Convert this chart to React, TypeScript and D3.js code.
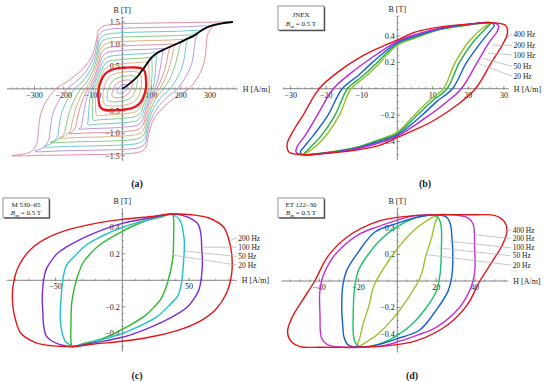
import * as React from 'react';
import * as d3 from 'd3';

type Pt = [number, number];

// ---------- (a) loops for Bm = 1.5 ... 0.1 T, descending branch from +tip to -tip [H A/m, B T]
const loopsA: Pt[][] = [
  [[378,1.5],[250,1.49],[100,1.475],[0,1.46],[-50,1.43],[-70,1.39],[-82,1.3],[-88,1.1],[-95,0.9],[-108,0.68],[-135,0.45],[-180,0.2],[-227,0],[-262,-0.3],[-280,-0.6],[-287,-0.95],[-292,-1.22],[-310,-1.4],[-345,-1.47],[-378,-1.5]],
  [[298,1.4],[200,1.39],[80,1.375],[0,1.36],[-50,1.33],[-68,1.29],[-80,1.2],[-86,1.0],[-93,0.8],[-105,0.6],[-125,0.38],[-155,0.18],[-188,0],[-218,-0.28],[-238,-0.58],[-246,-0.9],[-252,-1.15],[-268,-1.31],[-298,-1.4]],
  [[268,1.3],[180,1.29],[70,1.275],[0,1.26],[-48,1.23],[-66,1.19],[-78,1.1],[-84,0.92],[-91,0.72],[-101,0.52],[-118,0.32],[-138,0.15],[-163,0],[-190,-0.27],[-208,-0.56],[-216,-0.86],[-222,-1.08],[-240,-1.22],[-268,-1.3]],
  [[247,1.2],[160,1.19],[60,1.175],[0,1.16],[-47,1.13],[-64,1.09],[-76,1.0],[-82,0.84],[-89,0.64],[-98,0.45],[-111,0.27],[-125,0.12],[-142,0],[-165,-0.26],[-182,-0.55],[-192,-0.83],[-200,-1.02],[-220,-1.14],[-247,-1.2]],
  [[215,1.1],[140,1.09],[50,1.075],[0,1.06],[-46,1.03],[-62,0.99],[-74,0.9],[-80,0.75],[-87,0.56],[-96,0.38],[-106,0.22],[-117,0.09],[-128,0],[-148,-0.25],[-163,-0.53],[-172,-0.78],[-178,-0.94],[-195,-1.05],[-215,-1.1]],
  [[183,1.0],[120,0.99],[40,0.975],[0,0.96],[-45,0.93],[-60,0.89],[-72,0.8],[-78,0.66],[-85,0.48],[-93,0.31],[-102,0.17],[-110,0.07],[-118,0],[-135,-0.24],[-148,-0.5],[-155,-0.72],[-160,-0.87],[-170,-0.96],[-183,-1.0]],
  [[148,0.9],[100,0.89],[30,0.875],[0,0.86],[-44,0.83],[-58,0.79],[-70,0.7],[-76,0.57],[-83,0.41],[-91,0.26],[-99,0.13],[-106,0.05],[-111,0],[-122,-0.22],[-130,-0.47],[-135,-0.67],[-138,-0.8],[-142,-0.87],[-148,-0.9]],
  [[118,0.8],[80,0.79],[30,0.775],[0,0.76],[-42,0.73],[-56,0.69],[-67,0.6],[-74,0.48],[-81,0.34],[-89,0.2],[-97,0.08],[-104,0],[-110,-0.2],[-114,-0.45],[-116,-0.63],[-117,-0.73],[-118,-0.8]],
  [[100,0.7],[70,0.69],[25,0.675],[0,0.66],[-40,0.63],[-54,0.59],[-64,0.51],[-72,0.39],[-80,0.25],[-88,0.12],[-93,0.05],[-97,0],[-100,-0.15],[-102,-0.35],[-102,-0.55],[-101,-0.65],[-100,-0.7]],
  [[88,0.6],[60,0.59],[20,0.575],[0,0.56],[-38,0.53],[-52,0.49],[-62,0.41],[-71,0.29],[-80,0.15],[-86,0.06],[-90,0],[-92,-0.12],[-92,-0.3],[-91,-0.47],[-89,-0.56],[-88,-0.6]],
  [[66,0.24],[63,0.32],[55,0.37],[32,0.39],[0,0.37],[-24,0.34],[-40,0.29],[-52,0.2],[-60,0.09],[-64,0],[-66,-0.1],[-66,-0.18],[-66,-0.24]],
  [[52,0.18],[50,0.24],[43,0.28],[25,0.295],[0,0.27],[-18,0.24],[-30,0.19],[-39,0.12],[-44,0.05],[-47,0],[-50,-0.08],[-51,-0.14],[-52,-0.18]],
  [[36,0.12],[34,0.16],[28,0.19],[15,0.2],[0,0.18],[-12,0.15],[-20,0.11],[-26,0.06],[-30,0],[-33,-0.06],[-35,-0.1],[-36,-0.12]],
  [[20,0.07],[14,0.095],[5,0.095],[-4,0.07],[-10,0.04],[-14,0],[-17,-0.035],[-19,-0.055],[-20,-0.07]],
];
const loopColorsA = ['#d9697f', '#a274d6', '#3fb5c0', '#5fb95f', '#c99a5e', '#d9697f', '#a274d6', '#3fb5c0', '#5fb95f', '#c99a5e', '#c99a5e', '#5fb95f', '#d9697f', '#7b7be0'];

// Bm = 0.5 T loop (highlighted)
const redLoopA: Pt[] = [[80,0.3],[76,0.4],[66,0.46],[40,0.48],[0,0.47],[-30,0.44],[-50,0.38],[-65,0.28],[-75,0.14],[-80,0.02],[-82,-0.1],[-81,-0.22],[-80,-0.3]];

// initial magnetization curve
const virginH = [0, 22, 40, 55, 66, 78, 88, 100, 118, 148, 183, 215, 247, 268, 298, 378];
const virginB = [0, 0.1, 0.2, 0.3, 0.4, 0.5, 0.6, 0.7, 0.8, 0.9, 1.0, 1.1, 1.2, 1.3, 1.4, 1.5];

// ---------- (b) JNEX, Bm = 0.5 T
const freqB = ['20 Hz', '50 Hz', '100 Hz', '200 Hz', '400 Hz'];
const loopsB: Pt[][] = [
  [[26.5,0.5],[20,0.484],[12,0.448],[5,0.385],[0,0.33],[-5.5,0.18],[-9,0.09],[-13,0],[-16.3,-0.2],[-20.5,-0.37],[-24.5,-0.47],[-26.5,-0.5]],
  [[26.3,0.5],[20,0.485],[12,0.45],[5,0.39],[0,0.34],[-6,0.19],[-10,0.09],[-14,0],[-17.5,-0.2],[-21.5,-0.36],[-25,-0.46],[-26.3,-0.5]],
  [[26.6,0.5],[20,0.487],[12,0.455],[5,0.4],[0,0.35],[-7,0.2],[-11,0.1],[-15.5,0],[-19.5,-0.2],[-23.5,-0.35],[-26.5,-0.45],[-27.3,-0.48],[-26.6,-0.5]],
  [[27,0.5],[20,0.49],[12,0.46],[5,0.41],[0,0.36],[-8,0.22],[-13,0.12],[-18,0],[-22.5,-0.2],[-25.8,-0.35],[-28.2,-0.44],[-28.5,-0.48],[-27,-0.5]],
  [[27,0.5],[20,0.49],[12.6,0.47],[5,0.43],[0,0.37],[-6,0.3],[-11,0.23],[-17,0.12],[-22,0],[-26.5,-0.2],[-29.5,-0.33],[-31,-0.42],[-30.5,-0.48],[-27,-0.5]],
];
const colorsB = ['#93c21f', '#22b04a', '#1a5fd6', '#c125d9', '#e3151b'];

// ---------- (c) M 530-65, Bm = 0.5 T
const freqC = ['20 Hz', '50 Hz', '100 Hz', '200 Hz'];
const loopsC: Pt[][] = [
  [[38.5,0.36],[38.5,0.45],[37.5,0.5],[30,0.48],[15,0.44],[0,0.37],[-16.6,0.27],[-24,0.2],[-29,0.14],[-34,0.015],[-37.8,-0.16],[-38.5,-0.36]],
  [[46.5,0.29],[45,0.4],[42.8,0.46],[39,0.49],[37,0.5],[20,0.46],[0,0.4],[-14,0.34],[-26.6,0.27],[-36,0.18],[-41.5,0.12],[-44,0.04],[-45,-0.03],[-46,-0.15],[-46.5,-0.29]],
  [[59,0.34],[57,0.42],[52.5,0.46],[45,0.49],[37,0.5],[20,0.47],[0,0.43],[-15,0.38],[-29,0.32],[-42,0.25],[-49,0.2],[-55,0.12],[-57.5,0.07],[-60,-0.11],[-59.5,-0.25],[-59,-0.34]],
  [[76,0.4],[65,0.47],[52,0.495],[37,0.5],[20,0.48],[0,0.46],[-20,0.43],[-41,0.38],[-58,0.31],[-70,0.22],[-78,0.1],[-82,-0.05],[-82,-0.2],[-80,-0.3],[-76,-0.4]],
];
const colorsC = ['#2eb82e', '#1ec2c6', '#7d2ad8', '#e3151b'];

// ---------- (d) ET 122-30, Bm = 0.5 T
const freqD = ['20 Hz', '50 Hz', '100 Hz', '200 Hz', '400 Hz'];
const loopsD: Pt[][] = [
  [[21,0.5],[17,0.47],[10,0.4],[2,0.28],[-6,0.12],[-8.5,0.06],[-11,0],[-13,-0.08],[-14.5,-0.18],[-17.5,-0.32],[-19.5,-0.44],[-21,-0.5]],
  [[22.5,0.42],[21,0.48],[17,0.5],[8,0.47],[0,0.41],[-8,0.32],[-15,0.2],[-20,0.08],[-22,-0.05],[-22.7,-0.25],[-22.5,-0.42]],
  [[27.5,0.42],[25.5,0.48],[20,0.5],[10,0.48],[0,0.435],[-11.5,0.37],[-20,0.22],[-26,0.08],[-28,-0.03],[-28.6,-0.2],[-28,-0.35],[-27.5,-0.42]],
  [[39,0.43],[36,0.48],[28,0.5],[18,0.5],[8,0.49],[0,0.46],[-10,0.41],[-20,0.35],[-32,0.2],[-37,0.08],[-39,0],[-40,-0.1],[-39.8,-0.25],[-39,-0.43]],
  [[55,0.45],[50,0.495],[40,0.5],[23,0.5],[6,0.49],[-10,0.45],[-26,0.33],[-36,0.18],[-42.5,0],[-49,-0.15],[-54,-0.27],[-56.5,-0.38],[-55,-0.45]],
];
const colorsD = ['#9cc22a', '#19c26a', '#1560d0', '#c832d2', '#e3151b'];

// ---------- helpers
const closeLoop = (desc: Pt[]): Pt[] =>
  desc.concat(desc.slice(1, -1).map(([h, b]) => [-h, -b] as Pt));

const fmt = (v: number, d: number) => (v < 0 ? '\u2212' : '') + Math.abs(v).toFixed(d);

const FONT = '"Liberation Serif", "DejaVu Serif", serif';
const AXIS = '#666';
const TXT = '#222';

type AxisCfg = {
  x: d3.ScaleLinear<number, number>;
  y: d3.ScaleLinear<number, number>;
  hExt: [number, number];
  bExt: [number, number];
  hMajor: number[];
  hStep: number;
  bMajor: number[];
  bStep: number;
  hDigits: number;
  bDigits: number;
};

const Axes = ({ c }: { c: AxisCfg }) => {
  const x0 = c.x(0);
  const y0 = c.y(0);
  const minor = (ext: [number, number], step: number, major: number[]) =>
    d3.range(Math.ceil(ext[0] / step), Math.floor(ext[1] / step) + 1)
      .map(i => +(i * step).toFixed(4))
      .filter(v => v !== 0 && !major.some(m => Math.abs(m - v) < 1e-6));
  const hMin = minor(c.hExt, c.hStep, c.hMajor);
  const bMin = minor(c.bExt, c.bStep, c.bMajor);
  return (
    <g>
      <line x1={c.x(c.hExt[0])} x2={c.x(c.hExt[1])} y1={y0} y2={y0} stroke={AXIS} strokeWidth={0.8} />
      <line x1={x0} x2={x0} y1={c.y(c.bExt[0])} y2={c.y(c.bExt[1])} stroke={AXIS} strokeWidth={0.8} />
      {hMin.map(v => (
        <line key={'hm' + v} x1={c.x(v)} x2={c.x(v)} y1={y0 - 1.6} y2={y0 + 0.4} stroke={AXIS} strokeWidth={0.6} />
      ))}
      {c.hMajor.map(v => (
        <g key={'hM' + v}>
          <line x1={c.x(v)} x2={c.x(v)} y1={y0 - 2.8} y2={y0 + 0.8} stroke={AXIS} strokeWidth={0.7} />
          <text x={c.x(v)} y={y0 + 9} fontSize={8} textAnchor="middle" fill={TXT}>{fmt(v, c.hDigits)}</text>
        </g>
      ))}
      {bMin.map(v => (
        <line key={'bm' + v} x1={x0 - 0.4} x2={x0 + 1.6} y1={c.y(v)} y2={c.y(v)} stroke={AXIS} strokeWidth={0.6} />
      ))}
      {c.bMajor.map(v => (
        <g key={'bM' + v}>
          <line x1={x0 - 0.8} x2={x0 + 2.8} y1={c.y(v)} y2={c.y(v)} stroke={AXIS} strokeWidth={0.7} />
          <text x={x0 - 2.5} y={c.y(v) + 2.8} fontSize={8} textAnchor="end" fill={TXT}>{fmt(v, c.bDigits)}</text>
        </g>
      ))}
      <text x={c.x(c.hExt[1]) + 5} y={y0 + 3} fontSize={8} fill={TXT}>H [A/m]</text>
      <text x={x0} y={c.y(c.bExt[1]) - 4} fontSize={8} textAnchor="middle" fill={TXT}>B [T]</text>
    </g>
  );
};

const LoopPaths = ({ x, y, loops, colors, width }: { x: any; y: any; loops: Pt[][]; colors: string[]; width: number }) => {
  const line = d3.line<Pt>().x(d => x(d[0])).y(d => y(d[1])).curve(d3.curveCatmullRomClosed.alpha(0.5));
  return (
    <g>
      {loops.map((l, i) => (
        <path key={i} d={line(closeLoop(l)) || ''} fill="none" stroke={colors[i]} strokeWidth={width} strokeLinejoin="round" />
      ))}
    </g>
  );
};

const Leaders = ({ x, y, names, from, to }: { x: any; y: any; names: string[]; from: Pt[]; to: Pt[] }) => (
  <g>
    {names.map((n, i) => (
      <g key={n}>
        <line x1={x(from[i][0])} y1={y(from[i][1])} x2={x(to[i][0])} y2={y(to[i][1])} stroke="#b0b0b0" strokeWidth={0.7} />
        <text x={x(to[i][0]) + 1.5} y={y(to[i][1]) + 2.6} fontSize={7.5} fill={TXT}>{n}</text>
      </g>
    ))}
  </g>
);

const InfoBox = ({ x, y, w, h, title, l1, l2 }: { x: number; y: number; w: number; h: number; title: string; l1: number; l2: number }) => (
  <g>
    <rect x={x + 1.2} y={y + 1.2} width={w} height={h} fill="#444" />
    <rect x={x} y={y} width={w} height={h} fill="#fff" stroke="#666" strokeWidth={0.7} />
    <text x={x + w / 2} y={l1} fontSize={7} textAnchor="middle" fill={TXT}>{title}</text>
    <text x={x + w / 2} y={l2} fontSize={7} textAnchor="middle" fill={TXT}>
      <tspan fontStyle="italic">B</tspan>
      <tspan fontSize={5} dy={1.5}>m</tspan>
      <tspan dy={-1.5}> = 0.5 T</tspan>
    </text>
  </g>
);

// ---------- scales and layout
const xA = d3.scaleLinear().domain([-300, 300]).range([34.5, 210]);
const yA = d3.scaleLinear().domain([-1.5, 1.5]).range([155.7, 22]);
const xB = d3.scaleLinear().domain([-30, 30]).range([290.7, 503.9]);
const yB = d3.scaleLinear().domain([-0.4, 0.4]).range([141.4, 36]);
const xC = d3.scaleLinear().domain([-50, 50]).range([55.6, 189]);
const yC = d3.scaleLinear().domain([-0.4, 0.4]).range([333.3, 227.3]);
const xD = d3.scaleLinear().domain([-40, 40]).range([319.6, 475]);
const yD = d3.scaleLinear().domain([-0.4, 0.4]).range([334, 228]);

const axA: AxisCfg = { x: xA, y: yA, hExt: [-394, 395], bExt: [-1.6, 1.62], hMajor: [-300, -200, -100, 100, 200, 300], hStep: 20, bMajor: [-1.5, -1, -0.5, 0.5, 1, 1.5], bStep: 0.1, hDigits: 0, bDigits: 1 };
const axB: AxisCfg = { x: xB, y: yB, hExt: [-32.1, 31.4], bExt: [-0.54, 0.552], hMajor: [-30, -20, -10, 10, 20, 30], hStep: 2, bMajor: [-0.4, -0.2, 0.2, 0.4], bStep: 0.05, hDigits: 0, bDigits: 1 };
const axC: AxisCfg = { x: xC, y: yC, hExt: [-86.7, 85.8], bExt: [-0.54, 0.546], hMajor: [-50, 50], hStep: 10, bMajor: [-0.4, -0.2, 0.2, 0.4], bStep: 0.05, hDigits: 0, bDigits: 1 };
const axD: AxisCfg = { x: xD, y: yD, hExt: [-59.5, 57.1], bExt: [-0.54, 0.55], hMajor: [-40, -20, 20, 40], hStep: 5, bMajor: [-0.4, -0.2, 0.2, 0.4], bStep: 0.05, hDigits: 0, bDigits: 1 };

const leadFromB: Pt[] = [[21.9, 0.2], [24.1, 0.23], [25.5, 0.27], [26.9, 0.33], [30.9, 0.39]];
const leadToB: Pt[] = [[32.3, 0.095], [32.3, 0.17], [32.3, 0.256], [32.3, 0.33], [32.3, 0.415]];
const leadFromC: Pt[] = [[38.2, 0.19], [47, 0.22], [60.7, 0.25], [80.7, 0.3]];
const leadToC: Pt[] = [[85.8, 0.115], [85.8, 0.18], [85.8, 0.25], [85.8, 0.32]];
const leadFromD: Pt[] = [[14.3, 0.2], [21.1, 0.25], [27.1, 0.3], [39.6, 0.35], [55.5, 0.385]];
const leadToD: Pt[] = [[58.6, 0.12], [58.6, 0.19], [58.6, 0.25], [58.6, 0.32], [58.6, 0.38]];

const App = () => {
  const redLine = d3.line<Pt>().x(d => xA(d[0])).y(d => yA(d[1])).curve(d3.curveCatmullRomClosed.alpha(0.5));
  const virgin = d3.line<number>().x(h => xA(h)).y((_, i) => yA(virginB[i])).curve(d3.curveMonotoneX);
  return (
    <svg width={550} height={382} style={{ position: 'absolute', left: 0, top: 0, background: '#fff' }} fontFamily={FONT}>
      {/* (a) */}
      <Axes c={axA} />
      <LoopPaths x={xA} y={yA} loops={loopsA} colors={loopColorsA} width={0.75} />
      <path d={redLine(closeLoop(redLoopA)) || ''} fill="none" stroke="#e8141a" strokeWidth={2.3} />
      <path d={virgin(virginH) || ''} fill="none" stroke="#000" strokeWidth={1.8} />
      <text x={137} y={187} fontSize={10} fontWeight="bold" textAnchor="middle" fill={TXT}>(a)</text>

      {/* (b) */}
      <Axes c={axB} />
      <LoopPaths x={xB} y={yB} loops={loopsB} colors={colorsB} width={1.4} />
      <Leaders x={xB} y={yB} names={freqB} from={leadFromB} to={leadToB} />
      <InfoBox x={278} y={6} w={46} h={24} title="JNEX" l1={16.5} l2={26} />
      <text x={425} y={187} fontSize={10} fontWeight="bold" textAnchor="middle" fill={TXT}>(b)</text>

      {/* (c) */}
      <Axes c={axC} />
      <LoopPaths x={xC} y={yC} loops={loopsC} colors={colorsC} width={1.4} />
      <Leaders x={xC} y={yC} names={freqC} from={leadFromC} to={leadToC} />
      <InfoBox x={3} y={198} w={46} h={19.5} title={'M 530\u201365'} l1={206.5} l2={215} />
      <text x={137} y={379} fontSize={10} fontWeight="bold" textAnchor="middle" fill={TXT}>(c)</text>

      {/* (d) */}
      <Axes c={axD} />
      <LoopPaths x={xD} y={yD} loops={loopsD} colors={colorsD} width={1.4} />
      <Leaders x={xD} y={yD} names={freqD} from={leadFromD} to={leadToD} />
      <InfoBox x={278} y={198} w={46} h={19.5} title={'ET 122\u201330'} l1={206.5} l2={215} />
      <text x={412} y={379} fontSize={10} fontWeight="bold" textAnchor="middle" fill={TXT}>(d)</text>
    </svg>
  );
};

export default App;
